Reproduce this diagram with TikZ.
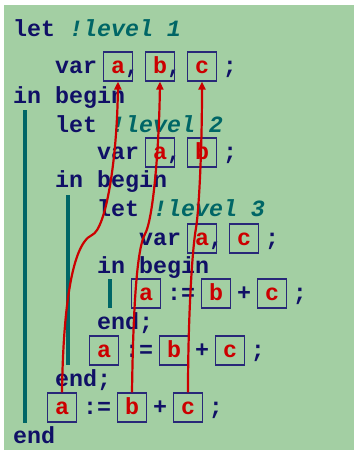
\documentclass[tikz,border=0pt]{standalone}
\usepackage{fontspec}
\usetikzlibrary{arrows.meta}

\newfontfamily\codefont{Liberation Mono}
\definecolor{bggreen}{RGB}{163,207,163}
\definecolor{kwnavy}{RGB}{16,16,102}
\definecolor{cmteal}{RGB}{0,102,102}
\definecolor{refred}{RGB}{204,0,0}
\definecolor{boxnavy}{RGB}{40,40,120}

\newcommand\lvl[1]{{\color{cmteal}\itshape #1}}
\newcommand\ph[1]{\phantom{#1}}

\tikzstyle{code}=[anchor=base west, inner sep=0pt, text=kwnavy, font=\codefont\bfseries\fontsize{23.3}{28}\selectfont]
\tikzstyle{vbox}=[code, anchor=base, draw=boxnavy, line width=1.1pt, text=refred, minimum width=29pt, text height=21pt, text depth=8pt]
\tikzstyle{bar}=[draw=cmteal, line width=3.2pt]
\tikzstyle{ref}=[draw=refred, line width=2.2pt, -{Triangle[length=8pt,width=7pt]}]

\begin{document}
\begin{tikzpicture}[x=1pt,y=-1pt]

\useasboundingbox (0,0) rectangle (354,450);
\fill[bggreen] (4,5) rectangle (354,450);

% block bars
\draw[bar] (25,110) -- (25,423);
\draw[bar] (68,195) -- (68,365);
\draw[bar] (110,279) -- (110,308);

% code lines, column x = 13 + 14*col
\node[code] (r0) at (13,36) {let \lvl{!level 1}};
\node[code] (r1) at (55,73) {var \ph{a}, \ph{b}, \ph{c} ;};
\node[code] (r2) at (13,103) {in begin};
\node[code] (r3) at (55,132) {let \lvl{!level 2}};
\node[code] (r4) at (97,159) {var \ph{a}, \ph{b} ;};
\node[code] (r5) at (55,187) {in begin};
\node[code] (r6) at (97,216) {let \lvl{!level 3}};
\node[code] (r7) at (139,245) {var \ph{a}, \ph{c} ;};
\node[code] (r8) at (97,273) {in begin};
\node[code] (r9) at (139,300) {\ph{a} := \ph{b} + \ph{c} ;};
\node[code] (r10) at (97,329) {end;};
\node[code] (r11) at (97,357) {\ph{a} := \ph{b} + \ph{c} ;};
\node[code] (r12) at (55,386) {end;};
\node[code] (r13) at (55,414) {\ph{a} := \ph{b} + \ph{c} ;};
\node[code] (r14) at (13,443) {end};

% boxed names: name/letter/column/baseline
\foreach \nm/\ch/\col/\base in {va1/a/7/73, vb1/b/10/73, vc1/c/13/73,
    va2/a/10/159, vb2/b/13/159,
    va3/a/13/245, vc3/c/16/245,
    ua3/a/9/300, ub3/b/14/300, uc3/c/18/300,
    ua2/a/6/357, ub2/b/11/357, uc2/c/15/357,
    ua1/a/3/414, ub1/b/8/414, uc1/c/12/414}{
  \node[vbox] (\nm) at ({20+14*\col},\base) {\ch};
}

% references of the outer statement
\draw[ref] (ua1.north) .. controls (63,320) and (70,245) .. (92,235)
  .. controls (106,229) and (117,160) .. (va1.south);
\draw[ref] (ub1.north) .. controls (133,320) and (136,250) .. (145,234)
  .. controls (153,220) and (159,150) .. (vb1.south);
\draw[ref] (uc1.north) .. controls (188,320) and (192,250) .. (196,228)
  .. controls (199,210) and (202,150) .. (vc1.south);

\end{tikzpicture}
\end{document}
